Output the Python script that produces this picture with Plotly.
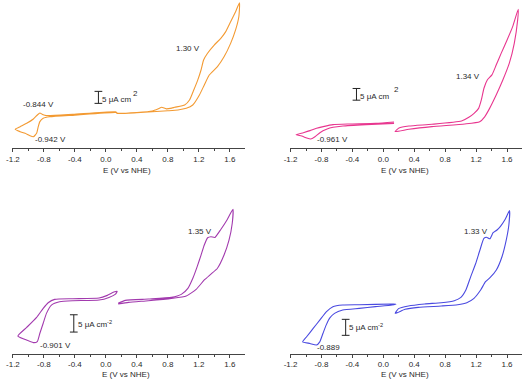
import plotly.graph_objects as go

# ---------------- DATA (E in V vs NHE, j in uA cm^-2, relative) ----------------
tick_vals = [-1.2, -0.8, -0.4, 0.0, 0.4, 0.8, 1.2, 1.6]
tick_text = ["-1.2", "-0.8", "-0.4", "0.0", "0.4", "0.8", "1.2", "1.6"]
minor_vals = [-1.0, -0.6, -0.2, 0.2, 0.6, 1.0, 1.4]

# Panel 1 (orange) - one continuous loop
p1_E = [0.15, 0.40, 0.60, 0.68, 0.72, 0.78, 0.85, 0.889, 1.017, 1.080, 1.135, 1.186, 1.229, 1.262,
        1.313, 1.399, 1.484, 1.548, 1.611, 1.675, 1.726,
        1.717, 1.675, 1.611, 1.526, 1.441, 1.335, 1.271, 1.208, 1.122, 1.038, 0.931, 0.8, 0.6, 0.4, 0.15,
        0.13, -0.4, -0.724, -0.809, -0.852, -0.873, -0.894, -0.936, -0.980, -1.043, -1.107, -1.171,
        -1.107, -1.022, -0.936, -0.885, -0.852, -0.818, -0.767, -0.427, 0.125, 0.15]
p1_I = [-0.5, -0.2, 0.4, 1.4, 2.0, 1.3, 1.6, 1.96, 2.92, 5.0, 9.17, 13.3, 17.5, 21.7,
        24.5, 27.9, 30.7, 33.5, 37.6, 41.8, 45.5,
        39.7, 34.2, 28.6, 23.0, 18.9, 15.4, 11.25, 7.08, 2.92, 1.54, 0.83, 0.5, 0.1, -0.3, -0.6,
        -0.2, -1.3, -2.0, -2.6, -4.0, -6.1, -8.9, -10.3, -9.9, -8.9, -8.2, -7.2,
        -6.1, -4.7, -2.9, -1.25, -0.4, -1.0, -1.5, -1.0, 0.1, -0.5]

# Panel 2 (pink) - two separate loops
p2a_E = [0.139, -0.224, -0.522, -0.650, -0.735, -0.820, -0.884, -0.940, -0.991, -1.056, -1.13,
         -1.034, -0.948, -0.864, -0.778, -0.650, -0.437, -0.096, 0.139]
p2a_I = [0.71, 0.14, -0.43, -1.0, -1.85, -3.28, -5.0, -6.0, -5.56, -4.7, -4.2,
         -3.28, -2.4, -1.4, -0.71, 0.14, 0.43, 0.71, 1.28]
p2b_E = [0.152, 0.203, 0.331, 0.629, 1.012, 1.106, 1.174, 1.233, 1.268, 1.302, 1.345, 1.405, 1.460,
         1.524, 1.601, 1.673, 1.745,
         1.738, 1.694, 1.630, 1.546, 1.460, 1.375, 1.311, 1.247, 1.055, 0.629, 0.331, 0.152]
p2b_I = [-2.86, -1.28, -0.43, 0.3, 1.71, 3.3, 5.0, 7.1, 10.7, 15.7, 19.2, 21.4, 25.6,
         30.6, 36.3, 42.0, 49.4,
         44.9, 34.9, 26.4, 19.2, 12.8, 7.1, 3.5, 1.4, 0.43, -0.7, -1.85, -2.86]

# Panel 3 (purple)
p3a_E = [-1.136, -1.022, -0.894, -0.809, -0.745, -0.661, -0.427, -0.088, 0.019, 0.103, 0.146,
         0.125, 0.040, -0.088, -0.427, -0.597, -0.703, -0.767, -0.809, -0.852, -0.885, -0.936,
         -1.043, -1.136]
p3a_I = [-10.4, -7.9, -5.0, -2.4, -0.77, 0.2, 0.39, 0.58, 1.35, 2.3, 2.5,
         1.73, 0.77, 0.0, -0.19, -0.48, -1.45, -3.85, -6.7, -9.6, -12.0, -12.3,
         -11.4, -10.4]
p3b_E = [0.159, 0.252, 0.549, 0.847, 0.974, 1.059, 1.123, 1.178, 1.229, 1.271, 1.314, 1.357, 1.408,
         1.484, 1.568, 1.641,
         1.632, 1.590, 1.526, 1.441, 1.357, 1.271, 1.166, 1.038, 0.847, 0.549, 0.294, 0.159]
p3b_I = [-0.95, -0.1, 0.29, 0.77, 1.64, 3.37, 6.3, 9.6, 13.0, 15.9, 18.0, 18.3, 18.1,
         20.4, 23.3, 26.2,
         22.2, 17.3, 13.0, 9.2, 7.5, 5.8, 3.1, 1.16, 0.48, -0.19, -0.67, -1.16]

# Panel 4 (blue)
p4a_E = [-1.043, -0.992, -0.907, -0.822, -0.738, -0.652, -0.525, -0.312, 0.112, 0.163,
         0.112, -0.101, -0.312, -0.525, -0.631, -0.694, -0.738, -0.780, -0.822, -0.865, -0.949, -1.043]
p4a_I = [-11.2, -9.6, -7.0, -4.4, -1.8, -0.2, 0.31, 0.41, 0.63, 0.63,
         0.31, -0.2, -0.73, -1.25, -2.3, -3.8, -5.9, -8.5, -11.2, -12.2, -11.7, -11.2]
p4b_E = [0.154, 0.197, 0.325, 0.536, 0.749, 0.918, 1.004, 1.068, 1.131, 1.195, 1.250, 1.301, 1.335,
         1.378, 1.420, 1.471, 1.513, 1.577, 1.633,
         1.624, 1.590, 1.535, 1.462, 1.386, 1.322, 1.259, 1.173, 1.080, 0.962, 0.749, 0.452, 0.282, 0.154]
p4b_I = [-2.3, -0.83, 0.0, 0.63, 1.04, 1.67, 2.7, 5.0, 9.2, 13.3, 17.5, 21.1, 21.5,
         21.0, 22.9, 23.75, 24.8, 27.1, 29.8,
         25.3, 20.6, 15.4, 11.25, 9.0, 7.6, 5.0, 2.4, 1.04, 0.41, 0.0, -0.42, -1.04, -2.3]

# peak labels: (text, E, j)
p1_labels = [("1.30 V", 1.055, 26.5), ("-0.844 V", -0.875, 3.33), ("-0.942 V", -0.718, -11.4)]
p2_labels = [("1.34 V", 1.099, 20.6), ("-0.961 V", -0.663, -6.4)]
p3_labels = [("1.35 V", 1.218, 19.7), ("-0.901 V", -0.655, -13.0)]
p4_labels = [("1.33 V", 1.201, 23.2), ("-0.889", -0.703, -12.9)]

scale_value = 5  # uA cm^-2

# ---------------- LAYOUT / STYLE ----------------
W, H = 522, 383
FONT = "Arial, Liberation Sans, sans-serif"
TXT = "#2a2a2a"
FS = 8

def px_x(p):
    return p / W

def px_y(p):
    return 1 - p / H

panels = [
    dict(segs=[(p1_E, p1_I)], labels=p1_labels, color="#F39A32",
         xd=[px_x(5), px_x(241)], yd=[px_y(148), 1.0], xr=[-1.2127, 1.7936], yr=[-15.0, 46.67],
         bar=(-0.096, 3.6), bartext=(-0.075, 5.3, "5 μA cm"), sup2=(0.385, 7.6), title=(122, 170)),
    dict(segs=[(p2a_E, p2a_I), (p2b_E, p2b_I)], labels=p2_labels, color="#E8368F",
         xd=[px_x(287), 1.0], yd=[px_y(148), 1.0], xr=[-1.205, 1.794], yr=[-9.83, 53.4],
         bar=(-0.347, 10.6), bartext=(-0.325, 12.1, "5 μA cm"), sup2=(0.172, 15.3), title=(403, 170)),
    dict(segs=[(p3a_E, p3a_I), (p3b_E, p3b_I)], labels=p3_labels, color="#A23AAE",
         xd=[px_x(5), px_x(241)], yd=[px_y(353.7), px_y(190)], xr=[-1.2127, 1.7936], yr=[-15.5, 31.8],
         bar=(-0.414, -9.25), bartext=(-0.390, -7.0, "5 μA cm<sup>-2</sup>"), sup2=None, title=(121, 374)),
    dict(segs=[(p4a_E, p4a_I), (p4b_E, p4b_I)], labels=p4_labels, color="#4A4AE0",
         xd=[px_x(287), 1.0], yd=[px_y(353.7), px_y(190)], xr=[-1.205, 1.794], yr=[-14.9, 36.25],
         bar=(-0.487, -9.16), bartext=(-0.475, -6.7, "5 μA cm<sup>-2</sup>"), sup2=None, title=(403, 374)),
]

fig = go.Figure()
annotations = []
shapes = []
layout_axes = {}

for i, p in enumerate(panels, start=1):
    xa = "x" if i == 1 else f"x{i}"
    ya = "y" if i == 1 else f"y{i}"
    for (E, I) in p["segs"]:
        fig.add_trace(go.Scatter(x=E, y=I, mode="lines", xaxis=xa, yaxis=ya,
                                 line=dict(color=p["color"], width=1.1, shape="spline", smoothing=0.5),
                                 showlegend=False, hoverinfo="skip"))
    xkey = "xaxis" if i == 1 else f"xaxis{i}"
    ykey = "yaxis" if i == 1 else f"yaxis{i}"
    layout_axes[xkey] = dict(domain=p["xd"], range=p["xr"], anchor=ya, showgrid=False, zeroline=False,
                             showline=True, linecolor="#444", linewidth=1,
                             ticks="outside", ticklen=3, tickwidth=1, tickcolor="#444",
                             tickvals=tick_vals, ticktext=tick_text,
                             tickfont=dict(family=FONT, size=FS, color=TXT),
                             minor=dict(tickvals=minor_vals, ticks="outside", ticklen=2,
                                        tickwidth=1, tickcolor="#444", showgrid=False),
                             fixedrange=True)
    layout_axes[ykey] = dict(domain=p["yd"], range=p["yr"], anchor=xa, visible=False,
                             showgrid=False, zeroline=False, fixedrange=True)
    # axis title
    annotations.append(dict(text="E (V vs NHE)", xref="paper", yref="paper",
                            x=px_x(p["title"][0]), y=px_y(p["title"][1]), showarrow=False,
                            xanchor="center", yanchor="middle",
                            font=dict(family=FONT, size=FS, color=TXT)))
    # peak labels
    for (t, ex, jy) in p["labels"]:
        annotations.append(dict(text=t, x=ex, y=jy, xref=xa, yref=ya, showarrow=False,
                                xanchor="center", yanchor="middle",
                                font=dict(family=FONT, size=FS, color=TXT)))
    # scale bar
    bx, by = p["bar"]
    cap = 0.05
    line = dict(color="#222", width=1)
    shapes.append(dict(type="line", xref=xa, yref=ya, x0=bx, x1=bx, y0=by, y1=by + scale_value, line=line))
    shapes.append(dict(type="line", xref=xa, yref=ya, x0=bx - cap, x1=bx + cap, y0=by, y1=by, line=line))
    shapes.append(dict(type="line", xref=xa, yref=ya, x0=bx - cap, x1=bx + cap,
                       y0=by + scale_value, y1=by + scale_value, line=line))
    tx, ty, tt = p["bartext"]
    annotations.append(dict(text=tt, x=tx, y=ty, xref=xa, yref=ya, showarrow=False,
                            xanchor="left", yanchor="middle",
                            font=dict(family=FONT, size=FS, color=TXT)))
    if p["sup2"] is not None:
        sx, sy = p["sup2"]
        annotations.append(dict(text="2", x=sx, y=sy, xref=xa, yref=ya, showarrow=False,
                                xanchor="center", yanchor="middle",
                                font=dict(family=FONT, size=FS, color=TXT)))

fig.update_layout(width=W, height=H, margin=dict(l=0, r=0, t=0, b=0),
                  paper_bgcolor="white", plot_bgcolor="white",
                  annotations=annotations, shapes=shapes, **layout_axes)

fig.write_html("out.html", config={"displayModeBar": False})
